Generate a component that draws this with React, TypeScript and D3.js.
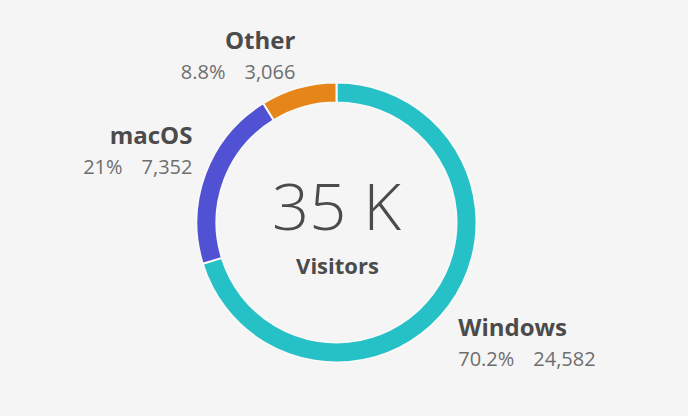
import React from "react";
import * as d3 from "d3";

const categories = ["Windows", "macOS", "Other"];
const values = [24582, 7352, 3066];
const percentLabels = ["70.2%", "21%", "8.8%"];
const valueLabels = ["24,582", "7,352", "3,066"];
const colors = ["#26C0C7", "#5151D3", "#E68619"];
const totalLabel = "35 K";
const centerCaption = "Visitors";

const W = 688;
const H = 416;
const FONT = "'Open Sans', 'Noto Sans', sans-serif";

export default function App() {
  const cx = 336.5;
  const cy = 222.5;
  const outerR = 140;
  const innerR = 120;
  const labelR = 155;

  const pie = d3
    .pie<number>()
    .sort(null)
    .value((d) => d)
    .startAngle(0)
    .endAngle(2 * Math.PI);
  const arcs = pie(values);
  const arc = d3
    .arc<d3.PieArcDatum<number>>()
    .innerRadius(innerR)
    .outerRadius(outerR);

  return (
    <div style={{ position: "fixed", left: 0, top: 0, width: W, height: H }}>
      <svg width={W} height={H} style={{ display: "block", background: "#f5f5f5" }}>
        <rect width={W} height={H} fill="#f5f5f5" />
        <g transform={`translate(${cx},${cy})`}>
          {arcs.map((a, i) => (
            <path key={i} d={arc(a) || ""} fill={colors[i]} stroke="#f8f8f8" strokeWidth={2} />
          ))}
        </g>
        {arcs.map((a, i) => {
          const mid = (a.startAngle + a.endAngle) / 2;
          const ax = cx + labelR * Math.sin(mid);
          const ay = cy - labelR * Math.cos(mid);
          const right = Math.sin(mid) >= 0;
          const upper = Math.cos(mid) > 0;
          const anchor = right ? "start" : "end";
          const x = right ? ax - 3 : ax + 1;
          const numY = upper ? ay + 6 : ay + 51;
          const titleY = numY - 30;
          return (
            <g key={"l" + i} fontFamily={FONT}>
              <text x={x} y={titleY} textAnchor={anchor} fontSize={24} fontWeight={700} fill="#4b4b4b">
                {categories[i]}
              </text>
              <text x={x} y={numY} textAnchor={anchor} fontSize={20} fill="#6e6e6e">
                <tspan>{percentLabels[i]}</tspan>
                <tspan dx={19}>{valueLabels[i]}</tspan>
              </text>
            </g>
          );
        })}
        <text x={cx} y={230} textAnchor="middle" fontFamily={FONT} fontSize={65} fontWeight={300} fill="#4b4b4b">
          {totalLabel}
        </text>
        <text x={cx + 1} y={273.5} textAnchor="middle" fontFamily={FONT} fontSize={22} fontWeight={700} fill="#4b4b4b">
          {centerCaption}
        </text>
      </svg>
    </div>
  );
}
